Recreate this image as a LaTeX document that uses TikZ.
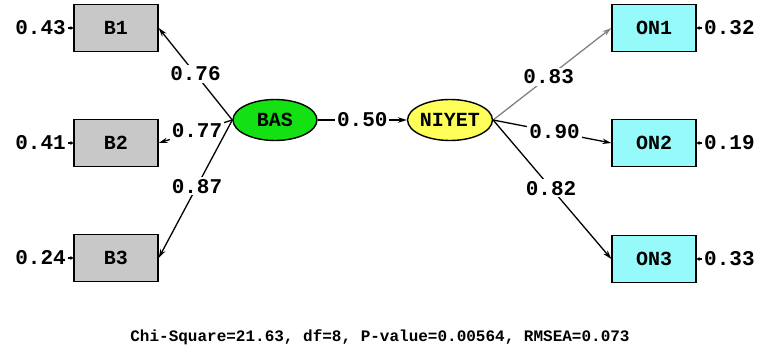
\documentclass[tikz,border=0pt]{standalone}
\usepackage{fontspec}
\setmainfont{Liberation Mono}
\usetikzlibrary{arrows.meta,shapes.geometric}
\definecolor{boxgray}{RGB}{200,200,200}
\definecolor{boxcyan}{RGB}{150,250,250}
\definecolor{ellgreen}{RGB}{20,225,20}
\definecolor{ellyellow}{RGB}{255,255,90}
\definecolor{arrgray}{RGB}{130,130,130}
\begin{document}
\begin{tikzpicture}[x=1pt,y=-1pt,
  txt/.style={font=\fontsize{21}{21}\selectfont\bfseries, inner sep=1pt},
  obsbox/.style={draw=black, line width=1.4pt, minimum width=84pt, minimum height=47pt, inner sep=0pt, font=\fontsize{20}{20}\selectfont\bfseries},
  latent/.style={ellipse, draw=black, line width=1.4pt, minimum width=84pt, minimum height=41pt, inner sep=0pt, font=\fontsize{20}{20}\selectfont\bfseries},
  path/.style={line width=1.3pt, -{Stealth[length=9pt,width=5.5pt]}},
  errarr/.style={line width=1.6pt, -{Stealth[length=3pt,width=4pt]}, shorten <=1pt},
  lbl/.style={txt, fill=white, inner sep=2pt}
]
\useasboundingbox (0,0) rectangle (763,354);

% observed boxes
\node[obsbox, fill=boxgray] (B1) at (116,28) {B1};
\node[obsbox, fill=boxgray] (B2) at (116,143) {B2};
\node[obsbox, fill=boxgray] (B3) at (116,258) {B3};
\node[obsbox, fill=boxcyan] (ON1) at (654,28) {ON1};
\node[obsbox, fill=boxcyan] (ON2) at (654,143) {ON2};
\node[obsbox, fill=boxcyan] (ON3) at (654,259) {ON3};

% latent
\node[latent, fill=ellgreen] (BAS) at (275,120) {BAS};
\node[latent, fill=ellyellow] (NIYET) at (450,120) {NIYET};

% error variances
\node[txt, anchor=east] (e1) at (67,28) {0.43};
\node[txt, anchor=east] (e2) at (67,143) {0.41};
\node[txt, anchor=east] (e3) at (67,258) {0.24};
\node[txt, anchor=west] (e4) at (703,28) {0.32};
\node[txt, anchor=west] (e5) at (703,143) {0.19};
\node[txt, anchor=west] (e6) at (703,259) {0.33};
\draw[errarr] (e1) -- (B1);
\draw[errarr] (e2) -- (B2);
\draw[errarr] (e3) -- (B3);
\draw[errarr] (e4) -- (ON1);
\draw[errarr] (e5) -- (ON2);
\draw[errarr] (e6) -- (ON3);

% loadings
\draw[path] (BAS.west) -- node[lbl, pos=0.5] {0.76} (B1.east);
\draw[path] (BAS.west) -- node[lbl, pos=0.48] {0.77} (B2.east);
\draw[path] (BAS.west) -- node[lbl, pos=0.48] {0.87} (B3.east);
\draw[path] (BAS.east) -- node[lbl, pos=0.5] {0.50} (NIYET.west);
\draw[path, draw=arrgray, fill=arrgray] (NIYET.east) -- node[lbl, pos=0.47] {0.83} (ON1.west);
\draw[path] (NIYET.east) -- node[lbl, pos=0.52] {0.90} (ON2.west);
\draw[path] (NIYET.east) -- node[lbl, pos=0.49] {0.82} (ON3.west);

\node[font=\fontsize{16}{16}\selectfont\bfseries] (fit) at (380,337) {Chi-Square=21.63, df=8, P-value=0.00564, RMSEA=0.073};
\end{tikzpicture}
\end{document}
